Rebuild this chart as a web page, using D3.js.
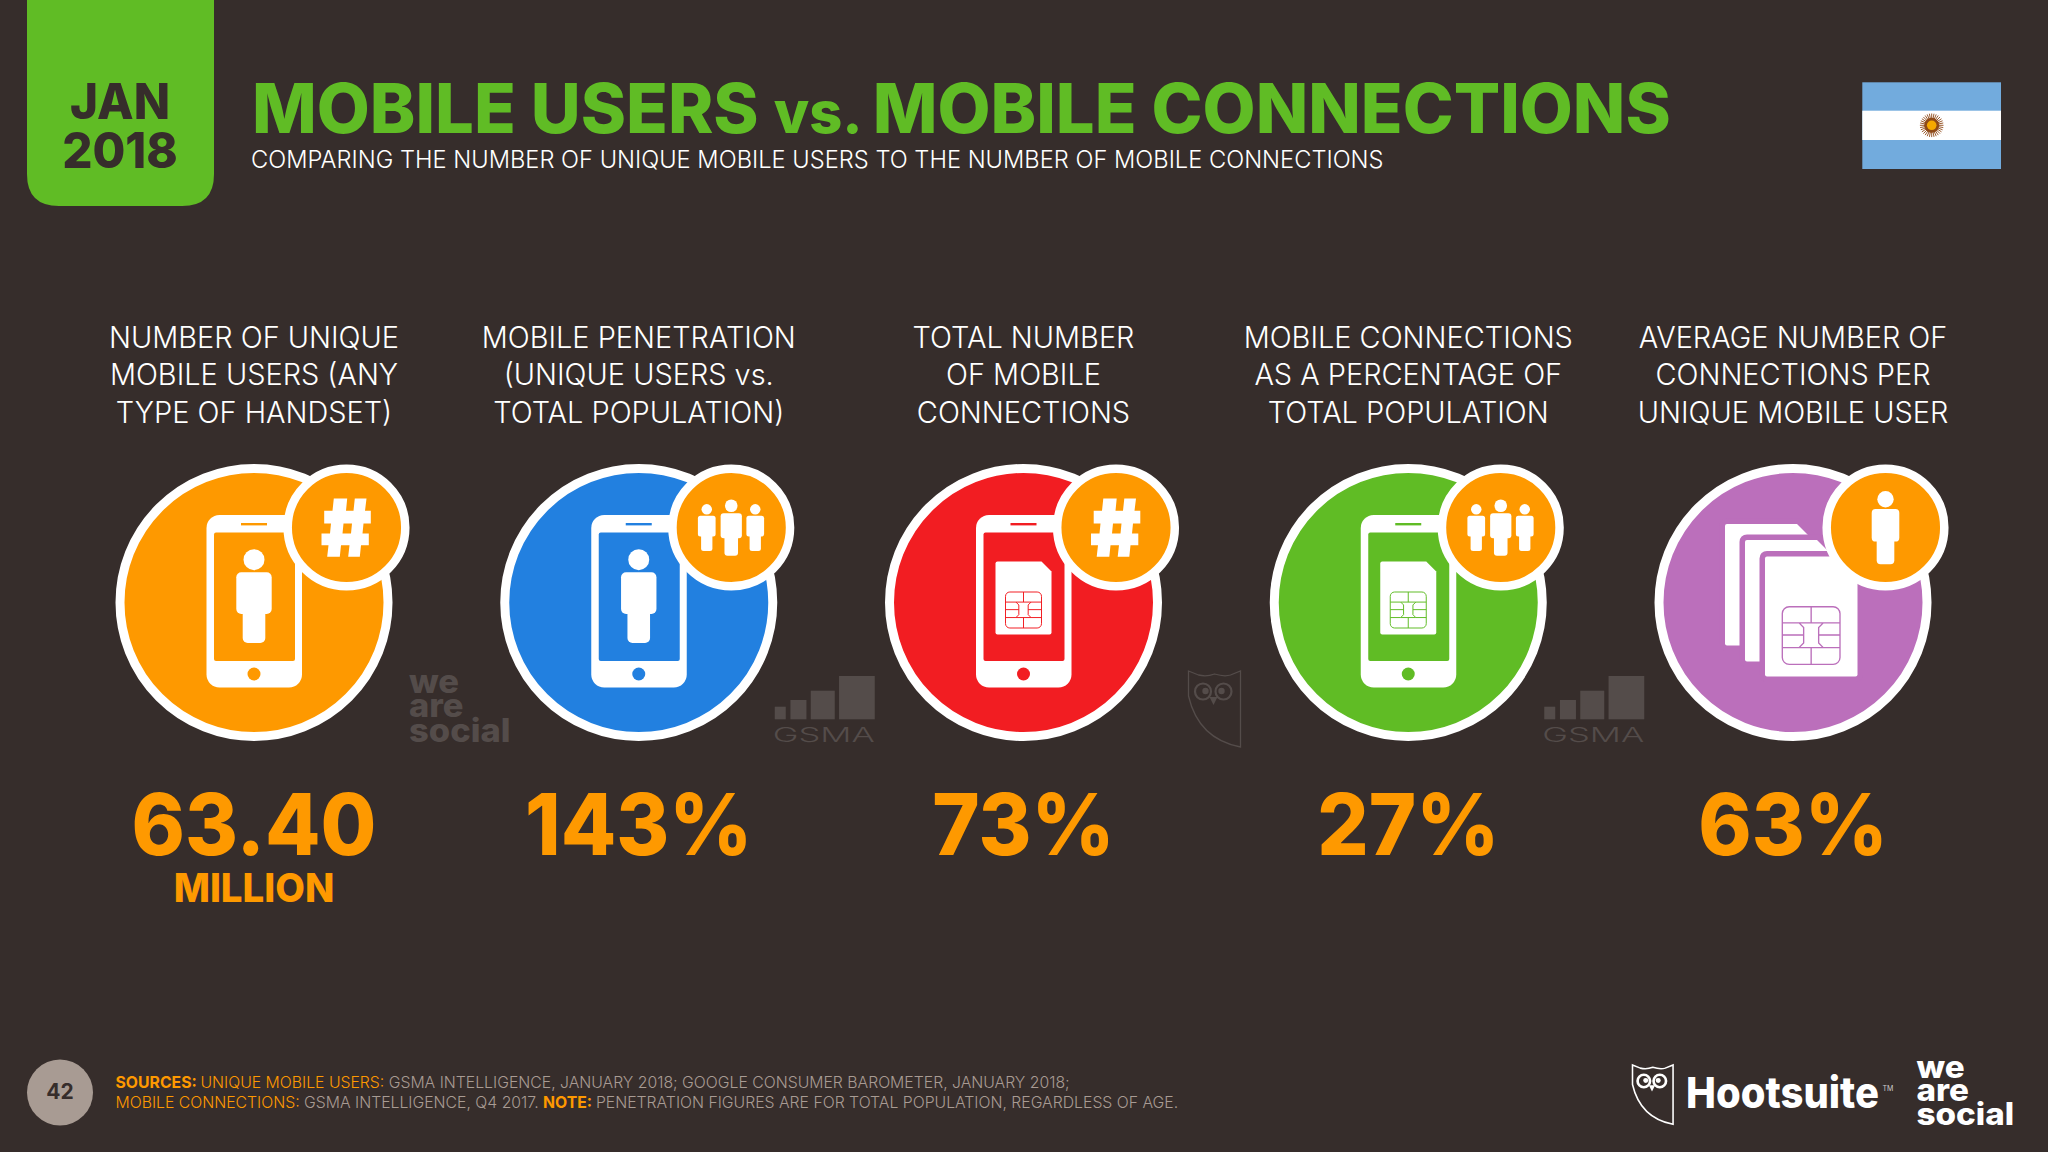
<!DOCTYPE html>
<html>
<head>
<meta charset="utf-8">
<script src="https://cdnjs.cloudflare.com/ajax/libs/d3/7.8.5/d3.min.js"></script>
<style>
    html, body { margin: 0; padding: 0; background: #362d2b; }
    svg { display: block; }
</style>
</head>
<body>
<svg id="chart" width="2048" height="1152"></svg>
<script>
// values
const categories = ['unique', 'penetration', 'connections', 'connPct', 'perUser']
const headers = [
    ['NUMBER OF UNIQUE', 'MOBILE USERS (ANY', 'TYPE OF HANDSET)'],
    ['MOBILE PENETRATION', '(UNIQUE USERS vs.', 'TOTAL POPULATION)'],
    ['TOTAL NUMBER', 'OF MOBILE', 'CONNECTIONS'],
    ['MOBILE CONNECTIONS', 'AS A PERCENTAGE OF', 'TOTAL POPULATION'],
    ['AVERAGE NUMBER OF', 'CONNECTIONS PER', 'UNIQUE MOBILE USER']
]
const values = [63.40, 143, 73, 27, 63]
const valueFormats = ['.2f', 'd', 'd', 'd', 'd']
const valueSuffixes = ['', '%', '%', '%', '%']
const valueUnits = ['MILLION', '', '', '', '']
const circleColors = ['#fe9900', '#2280e0', '#f21d22', '#60bc25', '#bb6fbb']
const mainIcons = ['phonePerson', 'phonePerson', 'phoneSim', 'phoneSim', 'simStack']
const badgeIcons = ['hash', 'people', 'hash', 'people', 'person']
const watermarks = ['wearesocial', 'gsma', 'owl', 'gsma', '']

const BG = '#362d2b'
const ORANGE = '#fe9900'
const GREEN = '#60bc25'
const GREY = '#a89b93'
const MARK = '#544c4a'
const FONT = 'Inter, Roboto, sans-serif'

const svg = d3.select('#chart')
const x = d3.scalePoint().domain(categories).range([254, 1793])
const cy = 602.5

// squeeze a text to k times its natural width, the slide font is narrower than what is installed
function squeeze(sel, k) {
    sel.each(function () {
        let w = this.getComputedTextLength()
        d3.select(this).attr('textLength', w * k).attr('lengthAdjust', 'spacingAndGlyphs')
    })
    return sel
}

svg.append('rect').attr('width', 2048).attr('height', 1152).attr('fill', BG)

// date tab
svg.append('path')
    .attr('d', 'M27,0 H214 V174 Q214,206 182,206 H59 Q27,206 27,174 Z')
    .attr('fill', GREEN)
svg.selectAll('.date').data(['JAN', '2018']).join('text')
    .attr('class', 'date')
    .attr('x', 120)
    .attr('y', (d, i) => 119 + i * 49)
    .attr('text-anchor', 'middle')
    .attr('font-family', FONT)
    .attr('font-weight', 800)
    .attr('font-size', 49)
    .attr('fill', BG)
    .text(d => d)
    .call(squeeze, 0.97)

// title
let title = svg.append('text')
    .attr('x', 252).attr('y', 133)
    .attr('font-family', FONT)
    .attr('font-weight', 800)
    .attr('font-size', 69)
    .attr('fill', GREEN)
title.append('tspan').text('MOBILE USERS ')
title.append('tspan').attr('font-size', 58).text('vs. ')
title.append('tspan').text('MOBILE CONNECTIONS')
title.call(squeeze, 0.995)

svg.append('text')
    .attr('x', 251).attr('y', 168)
    .attr('font-family', FONT)
    .attr('font-weight', 300)
    .attr('font-size', 24.5)
    .attr('fill', '#fff')
    .text('COMPARING THE NUMBER OF UNIQUE MOBILE USERS TO THE NUMBER OF MOBILE CONNECTIONS')
    .call(squeeze, 0.966)

// one column per metric
let cols = svg.selectAll('.col').data(categories).join('g')
    .attr('class', 'col')
    .attr('transform', d => `translate(${x(d)},0)`)

cols.each(function (d, i) {
    let g = d3.select(this)
    g.selectAll('.hdr').data(headers[i]).join('text')
        .attr('class', 'hdr')
        .attr('y', (t, j) => 348 + j * 37.3)
        .attr('text-anchor', 'middle')
        .attr('font-family', FONT)
        .attr('font-weight', 300)
        .attr('font-size', 29.5)
        .attr('fill', '#fff')
        .text(t => t)
        .call(squeeze, 0.98)

    let color = circleColors[i]
    g.append('circle').attr('cy', cy).attr('r', 134)
        .attr('fill', color).attr('stroke', '#fff').attr('stroke-width', 9)

    let icon = g.append('g').attr('transform', `translate(0,${cy})`)
    if (mainIcons[i] == 'simStack') {
        drawSimStack(icon, color)
    } else {
        drawPhone(icon, color)
        if (mainIcons[i] == 'phonePerson') {
            drawPerson(icon, 0, -6.5, 1, '#fff')
        } else {
            drawSim(icon, -28, -41, 56, 73, 10, color, 'none', 0)
            drawChip(icon, -18, -10.5, 36, color)
        }
    }

    let badge = g.append('g').attr('transform', `translate(92.5,${cy - 75})`)
    badge.append('circle').attr('r', 58.8)
        .attr('fill', ORANGE).attr('stroke', '#fff').attr('stroke-width', 8.5)
    if (badgeIcons[i] == 'hash') {
        drawHash(badge)
    } else if (badgeIcons[i] == 'person') {
        drawPerson(badge, 0, 0, 0.78, '#fff')
    } else {
        drawPerson(badge, -24.5, 0, 0.5, '#fff')
        drawPerson(badge, 24, 0, 0.5, '#fff')
        drawPerson(badge, 0, 0, 0.6, '#fff')
    }

    if (watermarks[i] == 'wearesocial') {
        drawWeAreSocial(g.append('g').attr('transform', 'translate(155,693)'), MARK, 1.04)
    } else if (watermarks[i] == 'gsma') {
        drawGsma(g.append('g').attr('transform', 'translate(135,0)'))
    } else if (watermarks[i] == 'owl') {
        drawOwl(g.append('g').attr('transform', 'translate(165,671)'), MARK, 1, 1.3)
    }

    g.append('text')
        .attr('y', 855)
        .attr('text-anchor', 'middle')
        .attr('font-family', FONT)
        .attr('font-weight', 800)
        .attr('font-size', 85)
        .attr('fill', ORANGE)
        .text(d3.format(valueFormats[i])(values[i]) + valueSuffixes[i])
        .call(squeeze, 0.95)

    if (valueUnits[i]) {
        g.append('text')
            .attr('y', 902)
            .attr('text-anchor', 'middle')
            .attr('font-family', FONT)
            .attr('font-weight', 800)
            .attr('font-size', 40)
            .attr('fill', ORANGE)
            .text(valueUnits[i])
            .call(squeeze, 0.96)
    }
})

function drawPhone(g, color) {
    g.append('rect').attr('x', -47.5).attr('y', -87.5).attr('width', 95.5).attr('height', 172.5)
        .attr('rx', 13).attr('fill', '#fff')
    g.append('rect').attr('x', -40).attr('y', -70).attr('width', 81).attr('height', 128.5)
        .attr('rx', 2).attr('fill', color)
    g.append('rect').attr('x', -13).attr('y', -79.5).attr('width', 26).attr('height', 2.4)
        .attr('fill', color)
    g.append('circle').attr('cy', 71.5).attr('r', 6.5).attr('fill', color)
}

function drawPerson(g, px, py, s, color) {
    let p = g.append('g').attr('transform', `translate(${px},${py}) scale(${s})`).attr('fill', color)
    p.append('circle').attr('cy', -36.3).attr('r', 10.5)
    p.append('rect').attr('x', -17.7).attr('y', -23.7).attr('width', 35.4).attr('height', 41.7).attr('rx', 5)
    p.append('rect').attr('x', -11.3).attr('y', 0).attr('width', 22.6).attr('height', 47).attr('rx', 5)
}

function drawHash(g) {
    g.append('path')
        .attr('fill', '#fff')
        .attr('d', 'M-12.7,-29 H0.7 L-0.5,-16.7 H7 L8.3,-29 H20 L18.5,-16.7 H24.3 V-4 H17 L16,6 H22.3 V17.7 H14.5 L13.3,29.3 H1.7 L3,17.7 H-5.5 L-6.7,29.3 H-19.3 L-18,17.7 H-25 V6 H-16.5 L-15.5,-4 H-22.3 V-16.7 H-14 Z M-3,-4 L-4,6 H4.5 L5.5,-4 Z')
}

function simPath(sx, sy, w, h, cut) {
    return `M${sx + 2},${sy} H${sx + w - cut} L${sx + w},${sy + cut} V${sy + h - 2} Q${sx + w},${sy + h} ${sx + w - 2},${sy + h} H${sx + 2} Q${sx},${sy + h} ${sx},${sy + h - 2} V${sy + 2} Q${sx},${sy} ${sx + 2},${sy} Z`
}

function drawSim(g, sx, sy, w, h, cut, halo, haloPaint, haloWidth) {
    g.append('path')
        .attr('d', simPath(sx, sy, w, h, cut))
        .attr('fill', '#fff')
        .attr('stroke', haloPaint == 'none' ? 'none' : halo)
        .attr('stroke-width', haloWidth)
        .attr('paint-order', 'stroke')
}

function drawChip(g, sx, sy, size, color) {
    let lines = 'M0.5,0 V0.28 M0,0.28 H0.29 L0.37,0.36 V0.63 L0.29,0.71 H0 M0,0.49 H0.37 M1,0.28 H0.71 L0.63,0.36 V0.63 L0.71,0.71 H1 M1,0.49 H0.63 M0.5,1 V0.71 M0.29,0.28 H0.71 M0.29,0.71 H0.71'
    let c = g.append('g').attr('transform', `translate(${sx},${sy}) scale(${size})`)
        .attr('fill', 'none').attr('stroke', color)
        .attr('stroke-width', 0.9 / size * (size > 50 ? 1.5 : 1.1))
    c.append('rect').attr('width', 1).attr('height', 1).attr('rx', 0.12)
    c.append('path').attr('d', lines)
}

function drawSimStack(g, color) {
    drawSim(g, -68, -78.5, 92, 121.5, 20, color, 'stroke', 11)
    drawSim(g, -48, -62.5, 92, 121.5, 20, color, 'stroke', 11)
    drawSim(g, -28, -46, 92.5, 120, 20, color, 'stroke', 11)
    drawChip(g, -10.7, 4.2, 57.7, color)
}

function drawWeAreSocial(g, color, s) {
    let words = ['we', 'are', 'social']
    g.attr('fill', color).attr('font-family', FONT).attr('font-weight', 800)
    g.selectAll('text').data(words).join('text')
        .attr('x', 0)
        .attr('y', (d, i) => i * 23.5 * s)
        .attr('font-size', 31 * s)
        .text(d => d)
        .call(squeeze, 1.07)
}

function drawGsma(g) {
    let bars = [[775, 706.7, 11, 12.6], [790.7, 700, 16, 19.3], [811, 690.7, 24, 28.6], [839.3, 676, 35.7, 43.3]]
    g.selectAll('rect').data(bars).join('rect')
        .attr('x', d => d[0] - 639 - 135)
        .attr('y', d => d[1])
        .attr('width', d => d[2])
        .attr('height', d => d[3])
        .attr('fill', MARK)
    g.append('text')
        .attr('x', -1).attr('y', 742.3)
        .attr('font-family', FONT).attr('font-weight', 300).attr('font-size', 19.5)
        .attr('fill', MARK)
        .text('GSMA')
        .attr('textLength', 102).attr('lengthAdjust', 'spacingAndGlyphs')
}

function drawOwl(g, color, s, sw) {
    g.attr('transform', g.attr('transform') + ` scale(${s})`)
    let o = g.append('g').attr('fill', 'none').attr('stroke', color).attr('stroke-width', sw)
    o.append('path').attr('d', 'M0,0 L10,4 Q18,6 26,3 Q36,6 42,4 L52,0 V76 Q10,68 0,25 Z')
    o.append('circle').attr('cx', 14.5).attr('cy', 20.5).attr('r', 8).attr('stroke-width', sw * 1.7)
    o.append('circle').attr('cx', 35).attr('cy', 20.5).attr('r', 8).attr('stroke-width', sw * 1.7)
    g.append('circle').attr('cx', 17).attr('cy', 20).attr('r', 3.2).attr('fill', color)
    g.append('circle').attr('cx', 33).attr('cy', 20).attr('r', 3.2).attr('fill', color)
    g.append('path').attr('d', 'M21,26 H29 L25,34 Z').attr('fill', color)
}

// flag
let flag = svg.append('g')
flag.append('rect').attr('x', 1862.3).attr('y', 82.3).attr('width', 138.7).attr('height', 86.7).attr('fill', '#72abdd')
flag.append('rect').attr('x', 1862.3).attr('y', 110.7).attr('width', 138.7).attr('height', 29.3).attr('fill', '#fff')
flag.selectAll('line').data(d3.range(32)).join('line')
    .attr('x1', 1931.7).attr('y1', 125.3)
    .attr('x2', d => 1931.7 + 11.8 * Math.cos(d * Math.PI / 16))
    .attr('y2', d => 125.3 + 11.8 * Math.sin(d * Math.PI / 16))
    .attr('stroke', '#8e4a18').attr('stroke-width', 0.9)
flag.append('circle').attr('cx', 1931.7).attr('cy', 125.3).attr('r', 7.5).attr('fill', '#8e4a18')
flag.append('circle').attr('cx', 1931.7).attr('cy', 125.3).attr('r', 4.8).attr('fill', '#f5a800')

// page number
svg.append('circle').attr('cx', 60).attr('cy', 1092.5).attr('r', 33).attr('fill', GREY)
svg.append('text')
    .attr('x', 60).attr('y', 1098.5)
    .attr('text-anchor', 'middle')
    .attr('font-family', FONT).attr('font-weight', 700).attr('font-size', 21)
    .attr('fill', BG)
    .text('42')

// sources, [text, colour, bold]
const sourceLines = [
    [['SOURCES: ', ORANGE, 700], ['UNIQUE MOBILE USERS: ', ORANGE, 300], ['GSMA INTELLIGENCE, JANUARY 2018; GOOGLE CONSUMER BAROMETER, JANUARY 2018;', GREY, 300]],
    [['MOBILE CONNECTIONS: ', ORANGE, 300], ['GSMA INTELLIGENCE, Q4 2017. ', GREY, 300], ['NOTE: ', ORANGE, 700], ['PENETRATION FIGURES ARE FOR TOTAL POPULATION, REGARDLESS OF AGE.', GREY, 300]]
]
sourceLines.forEach((parts, i) => {
    let t = svg.append('text')
        .attr('x', 115.5).attr('y', 1088.3 + i * 19.4)
        .attr('font-family', FONT).attr('font-size', 16)
    parts.forEach(p => {
        t.append('tspan').attr('fill', p[1]).attr('font-weight', p[2]).text(p[0])
    })
    t.call(squeeze, 0.986)
})

// logos
drawOwl(svg.append('g').attr('transform', 'translate(1632.5,1065)'), '#fff', 0.78, 2)
svg.append('text')
    .attr('x', 1686).attr('y', 1108.3)
    .attr('font-family', FONT).attr('font-weight', 800).attr('font-size', 43)
    .attr('fill', '#fff')
    .text('Hootsuite')
    .call(squeeze, 0.93)
svg.append('text')
    .attr('x', 1882.5).attr('y', 1091)
    .attr('font-family', FONT).attr('font-size', 7)
    .attr('fill', '#ccc')
    .text('TM')
drawWeAreSocial(svg.append('g').attr('transform', 'translate(1916.5,1077.7)'), '#fff', 1)
</script>
</body>
</html>
